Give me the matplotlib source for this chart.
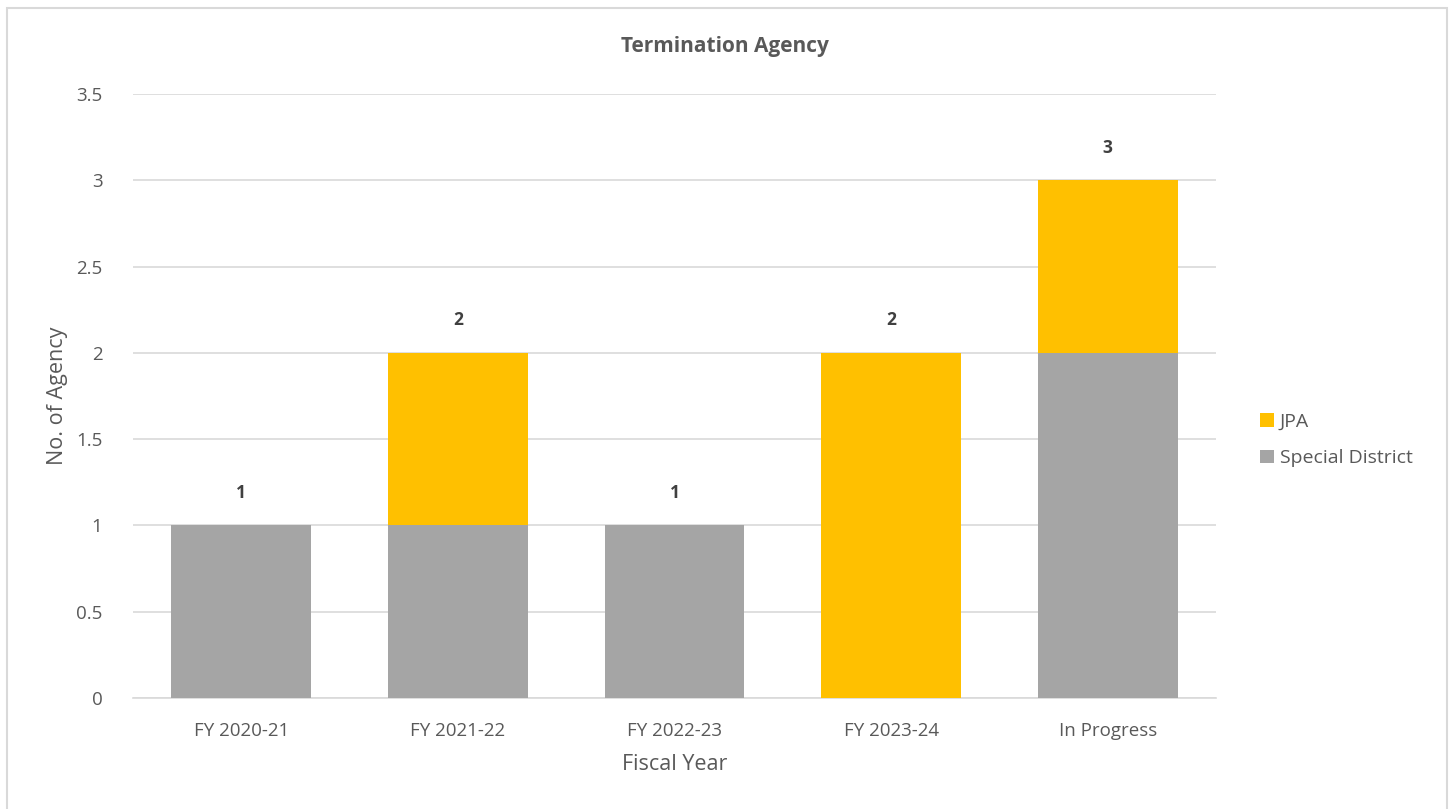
import numpy as np
import matplotlib.pyplot as plt
from matplotlib.patches import Rectangle

years = ["FY 2020-21", "FY 2021-22", "FY 2022-23", "FY 2023-24", "In Progress"]
special_district = [1, 1, 1, 0, 2]
jpa = [0, 1, 0, 2, 1]

GRAY = "#A5A5A5"
GOLD = "#FFC000"
TXT = "#595959"

plt.rcParams['font.family'] = ['Open Sans', 'DejaVu Sans']

fig = plt.figure(figsize=(14.5, 8.09), dpi=100)
ax = fig.add_axes([0.0917, 0.1372, 0.7469, 0.7466])

x = np.arange(len(years))
totals = np.array(special_district) + np.array(jpa)
ax.bar(x, special_district, width=0.646, color=GRAY, label="Special District", zorder=3)
ax.bar(x, jpa, width=0.646, bottom=special_district, color=GOLD, label="JPA", zorder=3)

for xi, t in zip(x, totals):
    ax.annotate(str(t), (xi, t), xytext=(0, 17), textcoords="offset points",
                ha="center", va="bottom", fontsize=12.5, fontweight="bold", color="#404040")

ax.set_xlim(-0.5, len(years) - 0.5)
ax.set_ylim(0, 3.5)
ax.set_yticks(np.arange(0, 3.51, 0.5))
ax.set_yticklabels(["0", "0.5", "1", "1.5", "2", "2.5", "3", "3.5"])
ax.set_xticks(x)
ax.set_xticklabels(years)
ax.tick_params(axis="both", length=0, labelsize=13.5, colors=TXT)
ax.tick_params(axis="x", pad=17)
ax.tick_params(axis="y", pad=22)
ax.grid(axis="y", color="#D9D9D9", linewidth=1.2, zorder=0)
for s in ["top", "right", "left"]:
    ax.spines[s].set_visible(False)
ax.spines["bottom"].set_color("#D9D9D9")
ax.spines["bottom"].set_linewidth(1.2)

ax.set_xlabel("Fiscal Year", fontsize=15.5, color=TXT, labelpad=10)
ax.set_ylabel("No. of Agency", fontsize=15.5, color=TXT, labelpad=6)
fig.text(0.5, 0.943, "Termination Agency", fontsize=15, fontweight="bold", color=TXT,
         ha="center", va="center")

handles, labels = ax.get_legend_handles_labels()
leg = fig.legend(handles[::-1], labels[::-1], loc="center left", bbox_to_anchor=(0.857, 0.456),
                 frameon=False, fontsize=14, handlelength=0.7, handleheight=0.7,
                 handletextpad=0.3, labelspacing=0.95, labelcolor=TXT)

fig.patches.append(Rectangle((0.005, -0.01), 0.993, 1.0, transform=fig.transFigure,
                             fill=False, edgecolor="#D9D9D9", linewidth=1.5))

fig.savefig("out.png", dpi=100)
